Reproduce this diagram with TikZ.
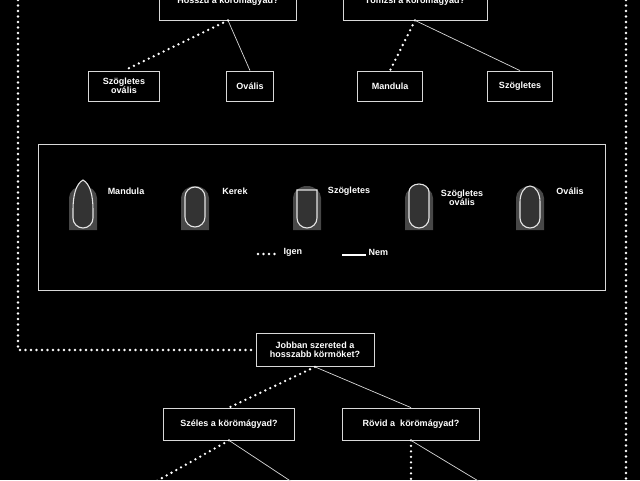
\documentclass[tikz,border=0pt]{standalone}
\usepackage{fontspec}
\setmainfont{Liberation Sans}
\usetikzlibrary{positioning}

\tikzset{
  qbox/.style={draw=white!85!black,fill=black,text=white,font=\bfseries\small,align=center,inner sep=3pt,line width=0.8pt},
  igen/.style={white,line width=2.6pt,line cap=round,dash pattern=on 0pt off 5.5pt},
  nem/.style={white!85!black,line width=0.7pt},
  finger/.style={fill=black!72,draw=none},
  nail/.style={draw=white!90!black,line width=1.1pt,fill=black!80},
  lbl/.style={text=white,font=\bfseries\small,align=center}
}

\begin{document}
\begin{tikzpicture}[x=1pt,y=-1pt]
  \fill[black] (0,0) rectangle (640,480);
  \useasboundingbox (0,0) rectangle (640,480);

  % top questions (cut off)
  \node[qbox,minimum width=137pt,minimum height=34pt,name=hossz] at (228,3) {\raisebox{6pt}{Hosszú a körömágyad?}};
  \node[qbox,minimum width=144pt,minimum height=34pt,name=tomzs] at (415,3) {\raisebox{6pt}{Tömzsi a körömágyad?}};
  \node[qbox,minimum width=71pt,minimum height=30pt,name=szov] at (124,86) {Szögletes\\[-2pt]ovális};
  \node[qbox,minimum width=47pt,minimum height=30pt,name=oval] at (250,86) {Ovális};
  \node[qbox,minimum width=65pt,minimum height=30pt,name=mand] at (390,86) {Mandula};
  \node[qbox,minimum width=65pt,minimum height=30pt,name=szog] at (520,86) {Szögletes};

  \draw[igen] (hossz.south) -- (szov.north);
  \draw[nem] (hossz.south) -- (oval.north);
  \draw[igen] (tomzs.south) -- (mand.north);
  \draw[nem] (tomzs.south) -- (szog.north);

  % legend
  \draw[white!85!black,line width=0.8pt] (38,144) rectangle (605,290);
  \foreach \x in {83,195,307,419,530}{
    \fill[finger] (\x-14,230) -- (\x-14,198) arc (180:360:14 and 12) -- (\x+14,230) -- cycle;
  }
  \draw[nail] (83,180) .. controls (90,184) and (93,195) .. (93,210) -- (93,218) arc (0:180:10) -- (73,210) .. controls (73,195) and (76,184) .. (83,180) -- cycle;
  \draw[nail] (185,197) arc (180:360:10 and 10) -- (205,217) arc (0:180:10 and 10) -- cycle;
  \draw[nail] (297,190) -- (317,190) -- (317,218) arc (0:180:10 and 10) -- cycle;
  \draw[nail] (409,192) arc (180:360:10 and 8) -- (429,218) arc (0:180:10 and 10) -- cycle;
  \draw[nail] (520,202) arc (180:360:10 and 16) -- (540,218) arc (0:180:10 and 10) -- cycle;
  \node[lbl,name=lmand] at (126,191) {Mandula};
  \node[lbl,name=lker] at (235,191) {Kerek};
  \node[lbl,name=lszog] at (349,191) {Szögletes};
  \node[lbl,name=lszov] at (462,198) {Szögletes\\[-2pt]ovális};
  \node[lbl,name=loval] at (570,191) {Ovális};
  \coordinate (ia) at (258,254);
  \coordinate (ib) at (276,254);
  \draw[igen] (ia) -- (ib);
  \node[lbl,anchor=west,name=ligen] at (280,252) {Igen};
  \coordinate (na) at (342,255);
  \coordinate (nb) at (366,255);
  \draw[white,line width=1.3pt] (na) -- (nb);
  \node[lbl,anchor=west,name=lnem] at (365,252) {Nem};

  % lower questions
  \node[qbox,minimum width=118pt,minimum height=33pt,name=jobb] at (315,350) {Jobban szereted a\\[-2pt]hosszabb körmöket?};
  \node[qbox,minimum width=131pt,minimum height=32pt,name=szel] at (229,424) {Széles a körömágyad?};
  \node[qbox,minimum width=137pt,minimum height=32pt,name=rov] at (411,424) {Rövid a\ \ körömágyad?};

  \coordinate (ltop) at (18,0);
  \coordinate (lbend) at (18,350);
  \coordinate (rtop) at (626,0);
  \coordinate (rbot) at (626,480);
  \draw[igen] (ltop) -- (lbend) -- (jobb.west);
  \draw[igen] (rtop) -- (rbot);

  \draw[igen] (jobb.south) -- (szel.north);
  \draw[nem] (jobb.south) -- (rov.north);
  \coordinate (sa) at (155,482);
  \coordinate (sb) at (292,482);
  \coordinate (ra) at (411,482);
  \coordinate (rb) at (480,482);
  \draw[igen] (szel.south) -- (sa);
  \draw[nem] (szel.south) -- (sb);
  \draw[igen] (rov.south) -- (ra);
  \draw[nem] (rov.south) -- (rb);
\end{tikzpicture}
\end{document}
